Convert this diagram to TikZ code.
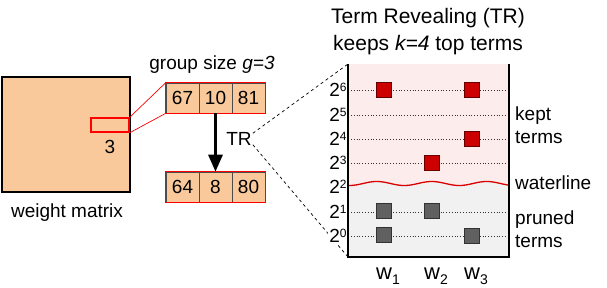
\documentclass[tikz,border=0pt]{standalone}
\usepackage{fontspec}
\setmainfont{Liberation Sans}
\usetikzlibrary{arrows.meta}
\definecolor{peach}{HTML}{F9C99B}
\definecolor{keptred}{HTML}{CC0000}
\definecolor{prunegray}{HTML}{606060}
\definecolor{pinkbg}{HTML}{FDECEC}
\definecolor{graybg}{HTML}{F1F1F1}
\newcommand{\sx}[1]{\raisebox{5.6pt}{\fontsize{12}{12}\selectfont #1}}
\newcommand{\sbx}[1]{\raisebox{-5pt}{\fontsize{14}{14}\selectfont #1}}
\begin{document}
\begin{tikzpicture}[x=1pt,y=-1pt,
  txt/.style={font=\fontsize{19}{23}\selectfont, inner sep=0pt},
  cell/.style={draw=black!70, line width=0.6pt, fill=peach, minimum width=33pt, minimum height=30pt, inner sep=0pt, font=\fontsize{19}{23}\selectfont},
  expo/.style={font=\fontsize{19}{23}\selectfont, fill=white, inner sep=1pt},
  wlab/.style={font=\fontsize{22}{26}\selectfont, inner sep=0pt, anchor=base},
  keptsq/.style={draw=black!60!red, line width=0.7pt, fill=keptred, minimum size=15pt, inner sep=0pt},
  prunesq/.style={draw=black!80, line width=0.7pt, fill=prunegray, minimum size=15pt, inner sep=0pt},
  dotrow/.style={dotted, line width=0.8pt, black!80}]
\useasboundingbox (0,0) rectangle (607,287);

% weight matrix
\node[draw, line width=1.2pt, fill=peach, minimum width=128pt, minimum height=115pt, inner sep=0pt] (wm) at (66,134.5) {};
\node[draw=red, line width=1.5pt, minimum width=38pt, minimum height=14pt, inner sep=0pt] (sel) at (110,125) {};
\node[txt] (three) at (110,147) {3};
\node[txt] (wmlabel) at (67,213) {weight matrix};

% group boxes
\node[txt] (gsize) at (212,65) {group size \textit{g=3}};
\node[cell] (a1) at (182.5,98) {67};
\node[cell] (a2) at (215.5,98) {10};
\node[cell] (a3) at (248.5,98) {81};
\draw[red, line width=1.5pt] (a1.north west) rectangle (a3.south east);
\node[cell] (b1) at (182.5,187) {64};
\node[cell] (b2) at (215.5,187) {8};
\node[cell] (b3) at (248.5,187) {80};
\draw[red, line width=1.5pt] (b1.north west) rectangle (b3.south east);
\draw[red, line width=0.7pt] (sel.north east) -- (a1.north west);
\draw[red, line width=0.7pt] (sel.south east) -- (a1.south west);
\draw[line width=3pt, -{Triangle[length=17pt,width=14pt]}] (a2.south) -- (b2.north);
\node[txt] (tr) at (239,139) {TR};

% panel
\coordinate (ptl) at (348,64);
\coordinate (pbl) at (348,257);
\coordinate (pbr) at (509,257);
\coordinate (ptr) at (509,64);
\fill[pinkbg] (ptl) rectangle (pbr);
\fill[graybg] plot[domain=348:509, samples=90] (\x, {183.5 - 2*sin((\x-363)*6.545)}) -- (pbr) -- (pbl) -- cycle;

\draw[dashed, line width=0.7pt] ([xshift=1pt,yshift=-1pt]tr.north east) -- (ptl);
\draw[dashed, line width=0.7pt] ([xshift=1pt,yshift=1pt]tr.south east) -- (pbl);

% rows
\foreach \n/\yy in {6/90,5/115,4/139,3/163,1/212,0/236}{
  \draw[dotrow] (351,\yy) -- (507,\yy);
}
\foreach \n/\yy in {6/90,5/115,4/139,3/163,2/187,1/212,0/236}{
  \node[expo] (e\n) at (338,\yy) {2\sx{\n}};
}
\draw[red!85!black, line width=1.3pt] plot[domain=348:509, samples=90] (\x, {183.5 - 2*sin((\x-363)*6.545)});
\draw[line width=1.5pt] (ptl) -- (pbl) -- (pbr) -- (ptr);

% squares
\node[keptsq] (k1) at (384,90) {};
\node[keptsq] (k2) at (472,90) {};
\node[keptsq] (k3) at (472,139) {};
\node[keptsq] (k4) at (432,163) {};
\node[prunesq] (p1) at (384,211) {};
\node[prunesq] (p2) at (432,211) {};
\node[prunesq] (p3) at (384,235) {};
\node[prunesq] (p4) at (472,236) {};

% column labels
\node[wlab] (w1) at (388,279) {w\sbx{1}};
\node[wlab] (w2) at (436,279) {w\sbx{2}};
\node[wlab] (w3) at (476,279) {w\sbx{3}};

% titles
\node[font=\fontsize{21}{25}\selectfont, inner sep=0pt] (t1) at (428,18) {Term Revealing (TR)};
\node[font=\fontsize{21}{25}\selectfont, inner sep=0pt] (t2) at (428,45) {keeps \textit{k=4} top terms};

% right labels
\node[txt, anchor=west, align=left] (kept) at (515,125) {kept\\terms};
\node[txt, anchor=west] (wl) at (515,183) {waterline};
\node[txt, anchor=west, align=left] (pruned) at (515,229) {pruned\\terms};
\end{tikzpicture}
\end{document}
